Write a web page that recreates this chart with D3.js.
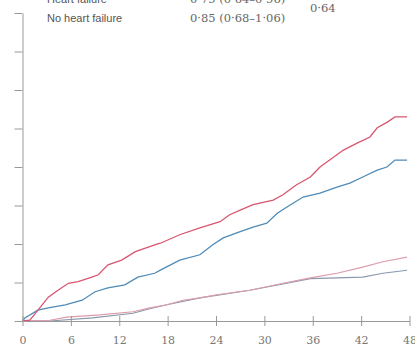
<!DOCTYPE html>
<html>
<head>
<meta charset="utf-8">
<script src="https://cdn.jsdelivr.net/npm/d3@7"></script>
<style>
  body { margin: 0; background: #fff; }
  svg { display: block; }
  .lbl { font-family: "Liberation Sans", Arial, sans-serif; font-size: 11px; fill: #555; }
  .num { font-family: "DejaVu Serif", serif; font-size: 11.5px; fill: #666; }
  .axis path, .axis line { stroke: #999; }
  .axis text { font-family: "DejaVu Serif", serif; font-size: 11px; fill: #777; }
</style>
</head>
<body>
<svg id="chart" width="415" height="349"></svg>
<script>
// months since randomisation, cumulative incidence (%)
const xTicks = [0, 6, 12, 18, 24, 30, 36, 42, 48];
const yTicks = [0, 5, 10, 15, 20, 25, 30, 35, 40];

const hfActive = [[0,0],[0.9,0.1],[1.6,1.0],[3.2,3.1],[4.4,4.0],[5.7,4.9],[6.9,5.1],[8.6,5.7],[9.4,6.0],[10.6,7.3],[12.3,7.9],[14.0,9.0],[16.4,9.9],[17.1,10.1],[19.5,11.2],[22.0,12.1],[24.5,12.9],[25.7,13.8],[27.0,14.4],[28.6,15.1],[31.1,15.7],[32.3,16.4],[34.0,17.7],[35.7,18.7],[36.9,20.0],[38.1,20.9],[39.8,22.2],[41.5,23.1],[43.1,23.9],[44.0,25.1],[45.2,25.8],[46.2,26.5],[47.7,26.5]];
const hfPlacebo = [[0,0],[0.3,0.4],[1.9,1.4],[3.2,1.7],[5.3,2.1],[7.4,2.7],[9.0,3.8],[10.6,4.3],[12.7,4.7],[14.3,5.7],[16.4,6.2],[17.1,6.6],[19.5,7.9],[22.0,8.6],[23.6,9.9],[24.9,10.8],[27.0,11.6],[28.6,12.2],[30.3,12.7],[31.6,14.0],[32.8,14.8],[34.8,16.1],[36.9,16.6],[39.0,17.4],[40.6,17.9],[42.2,18.7],[44.0,19.6],[45.2,20.0],[46.2,20.9],[47.7,20.9]];
const noHfActive = [[0,0],[3.4,0.1],[5.5,0.5],[9.6,0.8],[13.7,1.2],[15.8,1.7],[17.9,2.1],[19.9,2.7],[22.0,3.0],[24.1,3.4],[28.2,4.0],[32.3,4.9],[35.7,5.6],[39.0,6.2],[42.2,7.0],[44.7,7.7],[47.7,8.3]];
const noHfPlacebo = [[0,0],[3.4,0],[8.7,0.4],[13.7,1.0],[15.8,1.6],[17.9,2.1],[22.0,3.0],[28.2,4.0],[32.3,4.8],[35.7,5.5],[39.0,5.6],[42.2,5.7],[44.7,6.2],[47.7,6.6]];

const legendRows = ["Heart failure", "No heart failure"];
const legendHR = ["0·79 (0·64–0·96)", "0·85 (0·68–1·06)"];
const pInteraction = "0·64";

const svg = d3.select("#chart");
const x = d3.scaleLinear().domain([0, 48]).range([22.5, 409.5]);
const y = d3.scaleLinear().domain([0, 40]).range([321, 13]);

const line = d3.line().x(d => x(d[0])).y(d => y(d[1]));
const series = [
  { data: noHfPlacebo, color: "#8a98ab", w: 1.1 },
  { data: noHfActive, color: "#dc9cab", w: 1.1 },
  { data: hfPlacebo, color: "#4f8bb6", w: 1.3 },
  { data: hfActive, color: "#d85670", w: 1.3 }
];
svg.selectAll("path.km").data(series).join("path")
   .attr("class", "km").attr("d", d => line(d.data))
   .attr("fill", "none").attr("stroke", d => d.color).attr("stroke-width", d => d.w);

// axes
svg.append("g").attr("class", "axis").attr("transform", `translate(0,${y(0)})`)
   .call(d3.axisBottom(x).tickValues(xTicks).tickSize(5).tickPadding(10))
   .call(g => g.select(".domain").remove());
svg.append("g").attr("class", "axis").attr("transform", `translate(0,${y(0)})`)
   .call(d3.axisBottom(x).tickValues(xTicks).tickSize(-5).tickSizeOuter(0).tickFormat(""));
svg.append("g").attr("class", "axis").attr("transform", `translate(${x(0)},0)`)
   .call(d3.axisLeft(y).tickValues(yTicks).tickSize(8).tickSizeOuter(0).tickFormat(""));

// legend
svg.selectAll("text.lbl").data(legendRows).join("text")
   .attr("class", "lbl").attr("x", 47).attr("y", (d, i) => 3 + i * 19).text(d => d);
svg.selectAll("text.num").data(legendHR).join("text")
   .attr("class", "num").attr("x", 190).attr("y", (d, i) => 3 + i * 19).text(d => d);
svg.append("text").attr("class", "num").attr("x", 310).attr("y", 11.5).text(pInteraction);
</script>
</body>
</html>
